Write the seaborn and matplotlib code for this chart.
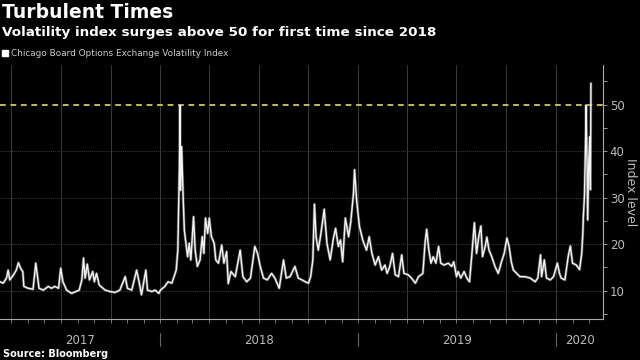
import pandas as pd
import matplotlib.pyplot as plt
import matplotlib.dates as mdates
from matplotlib.ticker import MultipleLocator
from matplotlib.lines import Line2D
import seaborn as sns

# values (VIX, Mar 2017 - Mar 2020)
dates = [
    '2017-03-11', '2017-03-17', '2017-03-23', '2017-03-26', '2017-03-29', '2017-04-05', '2017-04-10',
    '2017-04-14', '2017-04-18', '2017-04-22', '2017-04-24', '2017-05-02', '2017-05-11', '2017-05-16',
    '2017-05-20', '2017-05-22', '2017-05-30', '2017-06-08', '2017-06-14', '2017-06-20', '2017-06-27',
    '2017-07-01', '2017-07-05', '2017-07-12', '2017-07-21', '2017-07-29', '2017-08-04', '2017-08-09',
    '2017-08-12', '2017-08-15', '2017-08-19', '2017-08-23', '2017-08-29', '2017-09-01', '2017-09-05',
    '2017-09-10', '2017-09-21', '2017-09-30', '2017-10-09', '2017-10-18', '2017-10-28', '2017-11-01',
    '2017-11-09', '2017-11-18', '2017-11-23', '2017-11-27', '2017-12-05', '2017-12-08', '2017-12-16',
    '2017-12-22', '2017-12-29',
    '2018-01-01', '2018-01-09', '2018-01-15', '2018-01-22', '2018-01-26', '2018-01-30', '2018-02-02',
    '2018-02-05', '2018-02-06', '2018-02-07', '2018-02-09', '2018-02-12', '2018-02-14', '2018-02-17',
    '2018-02-20', '2018-02-23', '2018-02-26', '2018-03-03', '2018-03-06', '2018-03-10', '2018-03-15',
    '2018-03-19', '2018-03-22', '2018-03-25', '2018-03-29', '2018-04-01', '2018-04-05', '2018-04-10',
    '2018-04-13', '2018-04-18', '2018-04-24', '2018-04-28', '2018-05-03', '2018-05-06', '2018-05-11',
    '2018-05-19', '2018-05-28', '2018-06-02', '2018-06-09', '2018-06-16', '2018-06-24', '2018-06-29',
    '2018-07-04', '2018-07-10', '2018-07-17', '2018-07-25', '2018-07-31', '2018-08-08', '2018-08-16',
    '2018-08-21', '2018-08-28', '2018-09-06', '2018-09-12', '2018-09-19', '2018-09-25', '2018-10-01',
    '2018-10-05', '2018-10-09', '2018-10-12', '2018-10-15', '2018-10-19', '2018-10-24', '2018-10-30',
    '2018-11-04', '2018-11-10', '2018-11-16', '2018-11-20', '2018-11-25', '2018-11-29', '2018-12-03',
    '2018-12-08', '2018-12-14', '2018-12-18', '2018-12-23', '2018-12-25', '2018-12-29',
    '2019-01-03', '2019-01-09', '2019-01-16', '2019-01-21', '2019-01-26', '2019-02-01', '2019-02-07',
    '2019-02-13', '2019-02-19', '2019-02-23', '2019-02-28', '2019-03-05', '2019-03-10', '2019-03-16',
    '2019-03-22', '2019-03-26', '2019-04-03', '2019-04-09', '2019-04-16', '2019-04-22', '2019-04-30',
    '2019-05-04', '2019-05-07', '2019-05-11', '2019-05-15', '2019-05-19', '2019-05-24', '2019-05-29',
    '2019-06-02', '2019-06-08', '2019-06-16', '2019-06-22', '2019-06-26', '2019-07-01', '2019-07-04',
    '2019-07-09', '2019-07-15', '2019-07-20', '2019-07-25', '2019-07-29', '2019-08-03', '2019-08-07',
    '2019-08-11', '2019-08-15', '2019-08-18', '2019-08-23', '2019-08-26', '2019-08-30', '2019-09-04',
    '2019-09-10', '2019-09-16', '2019-09-22', '2019-09-27', '2019-10-02', '2019-10-06', '2019-10-10',
    '2019-10-14', '2019-10-20', '2019-10-26', '2019-11-04', '2019-11-14', '2019-11-23', '2019-11-28',
    '2019-12-03', '2019-12-05', '2019-12-10', '2019-12-14', '2019-12-21', '2019-12-27',
    '2020-01-03', '2020-01-07', '2020-01-10', '2020-01-17', '2020-01-23', '2020-01-27', '2020-01-31',
    '2020-02-07', '2020-02-13', '2020-02-17', '2020-02-19', '2020-02-20', '2020-02-22', '2020-02-24',
    '2020-02-25', '2020-02-27', '2020-02-28', '2020-03-01', '2020-03-03', '2020-03-04', '2020-03-05',
]
vix = [
    11.9, 11.6, 12.7, 14.4, 12.3, 13.4, 14.4,
    16.0, 14.8, 14.1, 10.9, 10.5, 10.3, 15.9,
    12.3, 10.5, 10.1, 10.9, 10.5, 10.9, 10.5,
    14.8, 11.9, 10.1, 9.4, 9.8, 10.1, 12.3,
    17.0, 12.7, 15.7, 12.3, 14.1, 11.9, 13.7,
    11.2, 10.1, 9.8, 9.6, 10.1, 13.0, 10.5,
    10.1, 14.4, 11.6, 9.1, 14.4, 10.1, 9.8,
    10.1, 9.4,
    10.1, 10.9, 11.9, 11.6, 13.0, 14.4, 18.7,
    37.4, 49.9, 31.6, 41.0, 29.5, 23.0, 20.2,
    17.3, 20.2, 16.6, 25.9, 18.7, 15.2, 16.6,
    21.6, 18.0, 25.6, 22.3, 25.6, 21.6, 20.2,
    16.6, 15.9, 19.8, 15.9, 18.4, 11.5, 14.1,
    13.0, 18.7, 13.0, 11.9, 12.7, 19.5, 18.0,
    15.2, 12.7, 12.3, 13.7, 12.7, 10.5, 16.6,
    12.7, 13.0, 15.2, 12.7, 12.3, 11.9, 11.6,
    13.0, 16.6, 28.6, 21.6, 18.7, 22.3, 27.5,
    20.2, 16.6, 21.3, 23.4, 19.5, 20.9, 16.2,
    25.6, 21.6, 24.8, 30.9, 36.0, 29.1,
    23.8, 20.9, 18.7, 21.6, 18.0, 15.5, 17.3,
    14.4, 15.5, 13.7, 15.2, 18.0, 13.4, 13.0,
    17.7, 13.7, 13.4, 12.7, 11.6, 13.0, 13.7,
    20.2, 23.2, 18.7, 15.9, 17.3, 15.9, 19.5,
    15.9, 15.5, 15.9, 15.2, 16.2, 13.0, 14.1,
    12.7, 14.1, 12.7, 11.9, 17.3, 24.6, 18.0,
    21.6, 23.9, 17.3, 19.5, 21.5, 18.7, 17.3,
    15.2, 13.7, 16.2, 18.0, 21.3, 19.5, 16.2,
    14.4, 13.7, 13.0, 13.0, 12.7, 11.9, 12.7,
    17.7, 13.0, 16.6, 12.7, 12.3, 13.0,
    15.9, 13.7, 12.7, 12.3, 17.3, 19.6, 15.9,
    15.5, 14.5, 18.0, 22.3, 25.9, 30.2, 41.7,
    49.9, 36.0, 25.2, 38.1, 43.1, 31.7, 54.6,
]

years = ['2017', '2018', '2019', '2020']
y_ticks = [10, 20, 30, 40, 50]
threshold = 50

df = pd.DataFrame({'date': pd.to_datetime(dates), 'vix': vix})

sns.set_theme(style='dark')
plt.rcParams['font.family'] = ['DejaVu Sans']

fig = plt.figure(figsize=(6.4, 3.6), dpi=100, facecolor='black')
ax = fig.add_axes([0, 0.114, 0.942, 0.705])
ax.set_facecolor('black')

x0, x1 = pd.Timestamp('2017-03-11'), pd.Timestamp('2020-03-27')

# grid
for q in pd.date_range('2017-04-01', '2020-01-01', freq='QS'):
    ax.axvline(q, color='#3a3a3a', lw=0.7, zorder=0)
for t in y_ticks[:-1]:
    ax.axhline(t, color='#3a3a3a', lw=0.7, ls=(0, (1, 1)), zorder=0)
ax.axhline(threshold, color='#d8ca5a', lw=1.3, ls=(0, (3.2, 2.6)), zorder=1)

# soft grey halo under the white line, like the dense daily trace in the original
sns.lineplot(data=df, x='date', y='vix', color='#8a8a8a', lw=2.0, alpha=0.6, ax=ax, zorder=2)
sns.lineplot(data=df, x='date', y='vix', color='#f4f4f4', lw=1.0, ax=ax, zorder=3)

ax.set_xlim(x0, x1)
ax.set_ylim(3.9, 58.5)
ax.set_xlabel('')
ax.grid(False)

# right-hand y axis
ax.yaxis.tick_right()
ax.yaxis.set_label_position('right')
ax.set_yticks(y_ticks)
ax.yaxis.set_minor_locator(MultipleLocator(5))
ax.set_ylabel('Index level', rotation=270, labelpad=9, color='#bbbbbb', fontsize=9)
ax.tick_params(axis='y', which='both', right=True, direction='out', color='#999999',
               length=3, width=0.7, labelcolor='#bbbbbb', labelsize=8.5, pad=2)

# x axis: monthly minor ticks, year labels centred in each year
ax.xaxis.set_minor_locator(mdates.MonthLocator())
mids, bounds = [], []
for y in years:
    a = max(pd.Timestamp(f'{y}-01-01'), x0)
    b = min(pd.Timestamp(f'{int(y) + 1}-01-01'), x1)
    mids.append(a + (b - a) / 2)
    if pd.Timestamp(f'{y}-01-01') > x0:
        bounds.append(pd.Timestamp(f'{y}-01-01'))
ax.set_xticks(mids)
ax.set_xticklabels(years)
ax.tick_params(axis='x', which='major', length=0, pad=10.5, labelcolor='#bbbbbb', labelsize=8.5)
ax.tick_params(axis='x', which='minor', bottom=True, direction='out', length=3, width=0.6,
               color='#888888')
trans = ax.get_xaxis_transform()
for b in bounds:
    ax.plot([b, b], [-0.055, -0.105], transform=trans, color='#666666', lw=0.8, clip_on=False)

for s in ['left', 'top']:
    ax.spines[s].set_visible(False)
for s in ['right', 'bottom']:
    ax.spines[s].set_color('#aaaaaa')
    ax.spines[s].set_linewidth(0.8)

# titles, legend, source
fig.text(2 / 640, 1 - 3 / 360, 'Turbulent Times', color='white', fontsize=13.5,
         fontweight='bold', va='top', ha='left')
fig.text(2 / 640, 1 - 26 / 360, 'Volatility index surges above 50 for first time since 2018',
         color='white', fontsize=9.7, fontweight='bold', va='top', ha='left')
handle = Line2D([], [], marker='s', ls='', color='white', markersize=5)
fig.legend(handles=[handle], labels=['Chicago Board Options Exchange Volatility Index'],
           loc='center left', bbox_to_anchor=(2 / 640, 1 - 54 / 360), frameon=False,
           borderpad=0, borderaxespad=0, handlelength=0.7, handletextpad=0.3,
           fontsize=6.4, labelcolor='#cccccc')
fig.text(3 / 640, 1 - 354 / 360, 'Source: Bloomberg', color='white', fontsize=7,
         fontweight='bold', va='center', ha='left')

fig.savefig('out.png', dpi=100, facecolor='black')
